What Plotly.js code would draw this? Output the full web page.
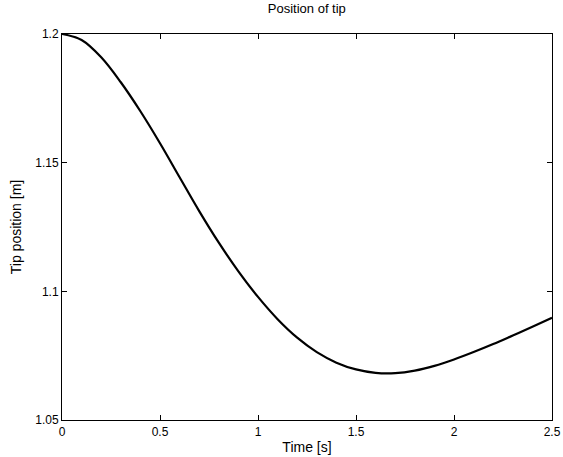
<!DOCTYPE html>
<html>
<head>
<meta charset="utf-8">
<script src="https://cdn.plot.ly/plotly-3.0.1.min.js"></script>
<style>html,body{margin:0;padding:0;background:#fff;}#chart{width:563px;height:457px;}</style>
</head>
<body>
<div id="chart"></div>
<script>
const timeS = [0, 0.1, 0.2, 0.3, 0.4, 0.5, 0.6, 0.7, 0.8, 0.9, 1.0, 1.1, 1.2, 1.3, 1.4, 1.5, 1.6, 1.7, 1.8, 1.9, 2.0, 2.1, 2.2, 2.3, 2.4, 2.5];
const tipPos = [1.2, 1.19767, 1.19096, 1.18125, 1.16998, 1.15755, 1.14433, 1.13118, 1.11890, 1.10778, 1.09784, 1.08919, 1.08200, 1.07637, 1.07229, 1.06966, 1.06834, 1.06822, 1.06920, 1.07104, 1.07351, 1.07639, 1.07949, 1.08285, 1.08625, 1.08970];
const xTickVals = [0, 0.5, 1, 1.5, 2, 2.5];
const xTickText = ['0', '0.5', '1', '1.5', '2', '2.5'];
const yTickVals = [1.05, 1.1, 1.15, 1.2];
const yTickText = ['1.05', '1.1', '1.15', '1.2'];

const fontFam = 'Liberation Sans, Arial, sans-serif';
const trace = {
  x: timeS, y: tipPos, type: 'scatter', mode: 'lines',
  line: {color: '#000', width: 2.2, shape: 'spline', smoothing: 1},
  hoverinfo: 'skip'
};
const axisCommon = {
  showgrid: false, zeroline: false, showline: true, linecolor: '#000', linewidth: 1,
  mirror: 'ticks', ticks: 'inside', ticklen: 5, tickwidth: 1, tickcolor: '#000',
  tickfont: {family: fontFam, size: 12, color: '#000'}, automargin: false
};
const layout = {
  width: 563, height: 457,
  margin: {l: 62, r: 11, t: 34, b: 37},
  paper_bgcolor: '#fff', plot_bgcolor: '#fff',
  showlegend: false,
  title: {text: 'Position of tip', font: {family: fontFam, size: 13, color: '#000'}, x: 0.545, xanchor: 'center', yref: 'container', y: 0.991, yanchor: 'top'},
  xaxis: Object.assign({}, axisCommon, {
    range: [0, 2.5], tickvals: xTickVals, ticktext: xTickText, ticklabelstandoff: 1,
    title: {text: 'Time [s]', font: {family: fontFam, size: 14, color: '#000'}, standoff: 3}
  }),
  yaxis: Object.assign({}, axisCommon, {
    range: [1.05, 1.2], tickvals: yTickVals, ticktext: yTickText,
    title: {text: 'Tip position [m]', font: {family: fontFam, size: 14, color: '#000'}, standoff: 10}
  })
};
Plotly.newPlot('chart', [trace], layout, {displayModeBar: false, staticPlot: true});
</script>
</body>
</html>
